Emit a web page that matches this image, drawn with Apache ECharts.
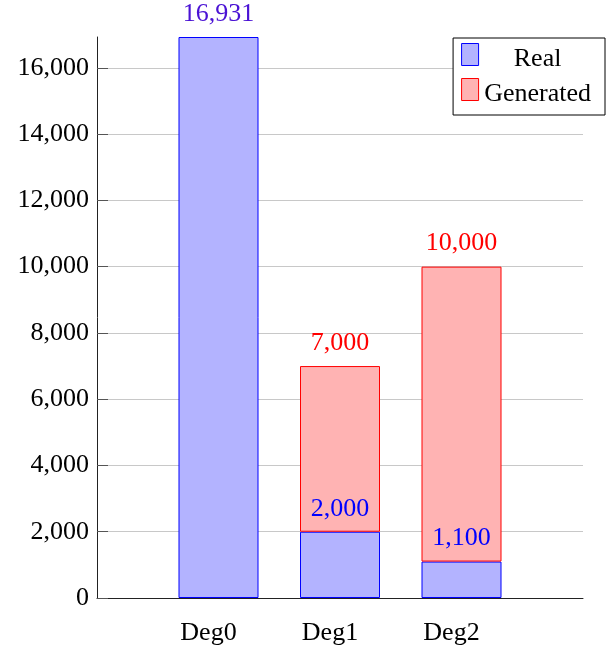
<!DOCTYPE html>
<html>
<head>
<meta charset="utf-8">
<script src="https://cdn.jsdelivr.net/npm/echarts@6/dist/echarts.min.js"></script>
<style>
  html, body { margin: 0; padding: 0; background: #fff; }
  #chart { width: 615px; height: 652px; }
</style>
</head>
<body>
<div id="chart"></div>
<script>
// ---- data ----
const categories = ['Deg0', 'Deg1', 'Deg2'];
const realValues = [16931, 2000, 1100];
const generatedValues = [null, 5000, 8900];
const yTicks = [0, 2000, 4000, 6000, 8000, 10000, 12000, 14000, 16000];
const yMax = 16931;
const seriesNames = ['Real', 'Generated'];

// ---- build ----
const FONT = '"Liberation Serif", "Times New Roman", serif';
const FS = 26;
const fmt = v => v.toLocaleString('en-US');

// pad with empty slots on both sides (axis spans one category beyond each end)
const axisCats = [''].concat(categories, ['']);
const pad = arr => [null].concat(arr, [null]);

const realData = pad(realValues.map((v, i) => i === 0
  ? { value: v, label: { color: '#4a12d4' } }
  : v));
const genData = pad(generatedValues);

// legend swatch: 17x22 box in the upper part of a 17x32 icon cell
const swatchIcon = 'path://M0,0 L17,0 L17,22 L0,22 Z M0,32';

const chart = echarts.init(document.getElementById('chart'), null, { renderer: 'canvas' });
chart.setOption({
  animation: false,
  backgroundColor: '#fff',
  textStyle: { fontFamily: FONT },
  grid: { left: 97, right: 32, top: 37, bottom: 54, containLabel: false },
  legend: {
    data: seriesNames,
    orient: 'vertical',
    right: 10,
    top: 38,
    itemWidth: 17,
    itemHeight: 32,
    itemGap: 2,
    itemStyle: { borderWidth: 1 },
    padding: [5, 14, 4, 8],
    backgroundColor: '#fff',
    borderColor: '#000',
    borderWidth: 1,
    icon: swatchIcon,
    formatter: name => '{c|' + name + '}',
    textStyle: {
      fontFamily: FONT, fontSize: FS, color: '#000',
      rich: { c: { width: 108, align: 'center', fontFamily: FONT, fontSize: FS, color: '#000' } }
    }
  },
  xAxis: {
    type: 'category',
    data: axisCats,
    boundaryGap: false,
    axisLine: { lineStyle: { color: '#222', width: 1 } },
    axisTick: { show: false },
    axisLabel: { fontFamily: FONT, fontSize: FS, color: '#000', margin: 22, padding: [0, 20, 0, 0] },
    splitLine: { show: false }
  },
  yAxis: {
    type: 'value',
    min: 0,
    max: yMax,
    interval: 2000,
    axisLine: { show: true, lineStyle: { color: '#222', width: 1 } },
    axisTick: { show: true, inside: true, length: 11, lineStyle: { color: '#555' }, customValues: yTicks },
    axisLabel: { fontFamily: FONT, fontSize: FS, color: '#000', margin: 8, customValues: yTicks, formatter: v => fmt(v) },
    splitLine: { show: true, lineStyle: { color: ['#c8c8c8','#c8c8c8','#c8c8c8','#c8c8c8','#c8c8c8','#c8c8c8','#c8c8c8','#c8c8c8','#c8c8c8','rgba(0,0,0,0)'], width: 1 } }
  },
  series: [
    {
      name: seriesNames[0],
      type: 'bar',
      stack: 'total',
      barWidth: 80,
      data: realData,
      itemStyle: { color: '#b3b3ff', borderColor: '#0000ff', borderWidth: 1 },
      label: {
        show: true, position: 'top', distance: 10,
        fontFamily: FONT, fontSize: FS, color: '#0000ff',
        formatter: p => fmt(p.value)
      }
    },
    {
      name: seriesNames[1],
      type: 'bar',
      stack: 'total',
      barWidth: 80,
      data: genData,
      itemStyle: { color: '#ffb3b3', borderColor: '#ff0000', borderWidth: 1 },
      label: {
        show: true, position: 'top', distance: 10,
        fontFamily: FONT, fontSize: FS, color: '#ff0000',
        formatter: p => fmt(p.value + realValues[p.dataIndex - 1])
      }
    }
  ]
});
</script>
</body>
</html>
